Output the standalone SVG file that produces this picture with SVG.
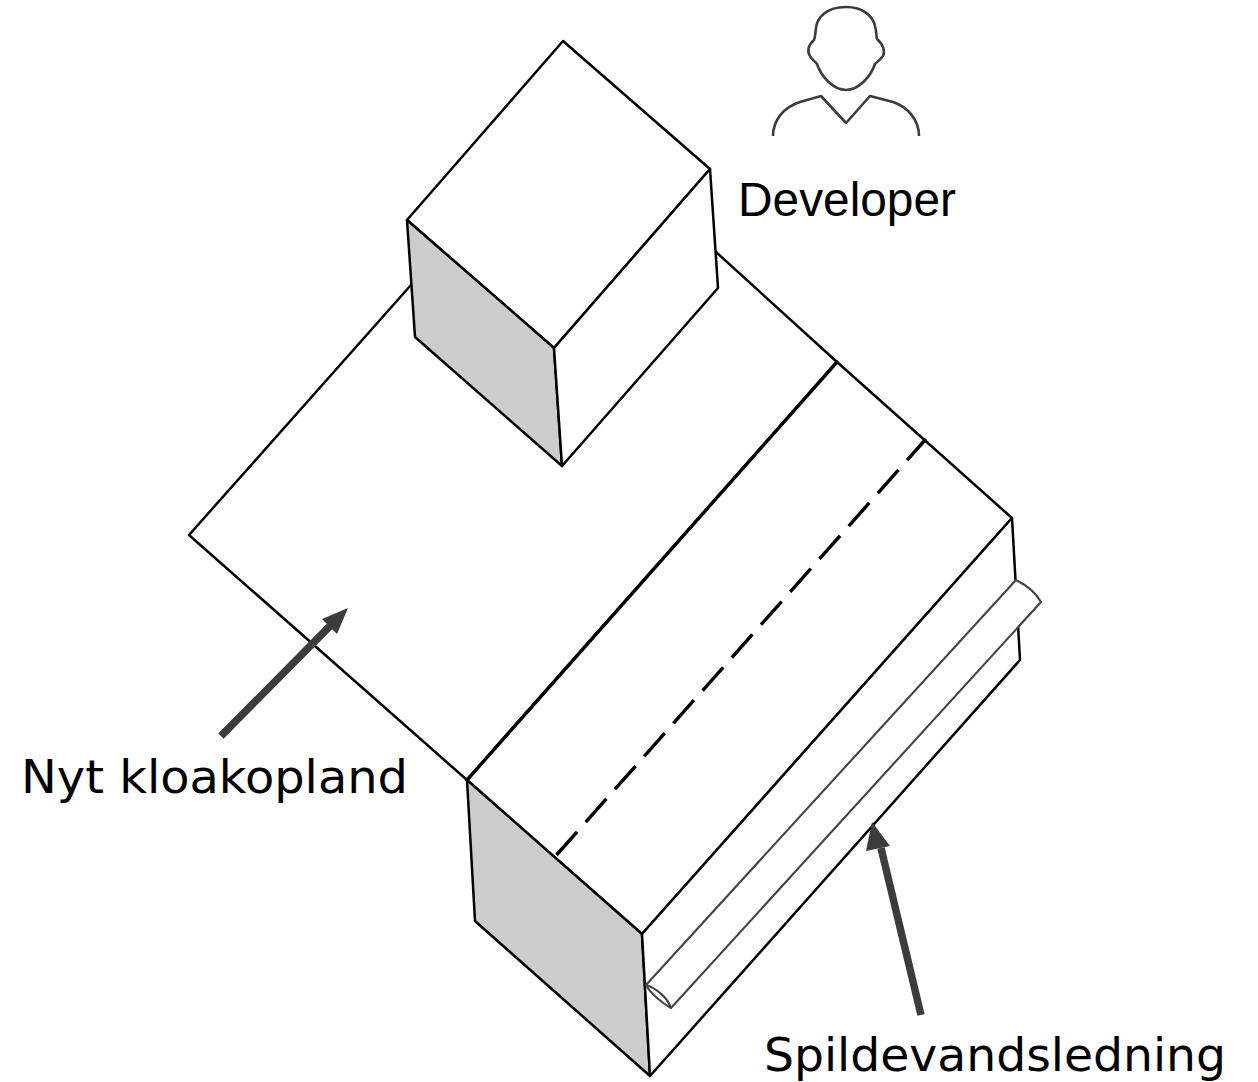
<svg xmlns="http://www.w3.org/2000/svg" width="1258" height="1082" viewBox="0 0 1258 1082">
<style>
.l{fill:none;stroke:#000;stroke-width:2.5;stroke-linejoin:round;stroke-linecap:round}
.p{fill:none;stroke:#444;stroke-width:2.1;stroke-linejoin:round}
.u{fill:none;stroke:#3c3c3c;stroke-width:2.6;stroke-linejoin:round}
.w{fill:#fff}
.g{fill:#ccc}
.t{font-family:"Liberation Sans",Arial,sans-serif;font-size:47.8px;fill:#000}
.d{font-family:"DejaVu Sans",Verdana,sans-serif;font-size:46.5px;fill:#000}
.a{stroke:#3c3c3c;stroke-width:7.5;fill:none}
.h{fill:#3c3c3c}
</style>
<g id="site">
<path class="l w" d="M411 285L189 535L467 780L837 362L716 252Z"/>
</g>
<g id="pipe-block">
<path class="l w" d="M467 780L837 362L1012 518L642 934Z"/>
<path class="l g" d="M467 780L642 934L650 1076L475 921Z"/>
<path class="l w" d="M642 934L650 1076L1020 660L1012 518Z"/>
<path class="l" style="stroke-width:3.4" d="M467 780L837 362"/>
<path class="l" style="stroke-width:3.4;stroke-dasharray:31 13;stroke-linecap:butt" d="M556.5 855L926 439"/>
</g>
<g id="pipe">
<path class="p w" d="M646 985L1016 580C1026 585 1036 593 1041 602L671 1008C662 1003 651 994 646 985Z"/>
<path class="p" d="M646 985C656 988 668 998 671 1008"/>
</g>
<g id="building">
<path class="l w" d="M407 220L563 41L710 169L554 348Z"/>
<path class="l g" d="M407 220L554 348L562 466L415 337Z"/>
<path class="l w" d="M554 348L710 169L718 288L562 466Z"/>
</g>
<g id="developer">
<path class="u" d="M846 7C826 7 817 18 816 28C815 35 815 38 814 40C808 45 807 52 810 56C812 60 816 62 817 64C821 76 833 90 846 90C859 90 871 76 875 64C877 62 880 60 883 56C885 52 884 45 877 39C876 36 877 33 875 26C873 17 864 7 846 7Z"/>
<path class="u" d="M773 136C773 120 784 107 800 102L821 96L846 123L870 96L893 102C908 107 919 120 919 136"/>
<text class="t" x="738" y="216" textLength="218" lengthAdjust="spacingAndGlyphs">Developer</text>
</g>
<g id="label-nyt">
<text class="d" x="21" y="793" textLength="387" lengthAdjust="spacingAndGlyphs">Nyt kloakopland</text>
</g>
<g id="label-spild">
<text class="d" x="764" y="1071" textLength="462" lengthAdjust="spacingAndGlyphs">Spildevandsledning</text>
</g>
<g id="connectors">
<path class="a" d="M221 736L332 624"/>
<path class="h" d="M348 608L337 634L322 619Z"/>
<path class="a" d="M921 1015L881 848"/>
<path class="h" d="M872 822L890 846L866 851Z"/>
</g>
</svg>
